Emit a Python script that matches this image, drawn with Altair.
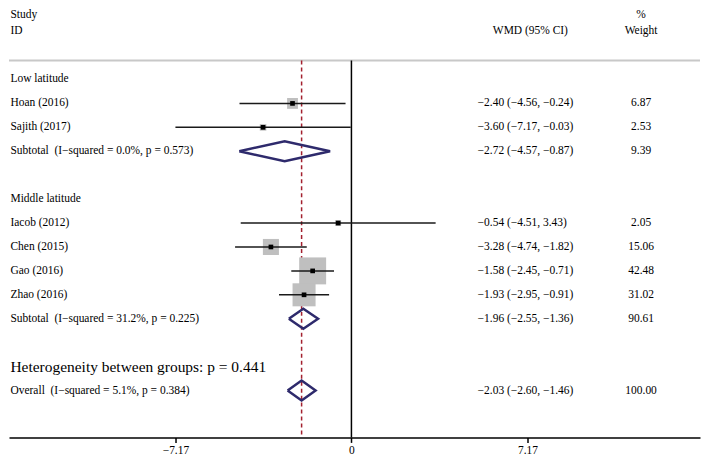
import altair as alt
import pandas as pd

# ---------------- data ----------------
study_names = ["Hoan (2016)", "Sajith (2017)", "Iacob (2012)", "Chen (2015)", "Gao (2016)", "Zhao (2016)"]
study_rows = [1, 2, 6, 7, 8, 9]
study_est = [-2.40, -3.60, -0.54, -3.28, -1.58, -1.93]
study_lo = [-4.56, -7.17, -4.51, -4.74, -2.45, -2.95]
study_hi = [-0.24, -0.03, 3.43, -1.82, -0.71, -0.91]
study_wt = [6.87, 2.53, 2.05, 15.06, 42.48, 31.02]

pool_names = ["Subtotal\u00a0 (I\u2212squared = 0.0%, p = 0.573)",
              "Subtotal\u00a0 (I\u2212squared = 31.2%, p = 0.225)",
              "Overall\u00a0 (I\u2212squared = 5.1%, p = 0.384)"]
pool_rows = [3, 10, 13]
pool_est = [-2.72, -1.96, -2.03]
pool_lo = [-4.57, -2.55, -2.60]
pool_hi = [-0.87, -1.36, -1.46]
pool_wt = [9.39, 90.61, 100.00]

group_names = ["Low latitude", "Middle latitude"]
group_rows = [0, 5]
het_text = "Heterogeneity between groups: p = 0.441"
het_row = 12

tick_values = [-7.17, 0, 7.17]

# ---------------- layout ----------------
FONT = "Liberation Serif"
W, H = 693, 429
X_MIN, X_MAX = -13.95, 14.20
Y_TOP, Y_BOT = -2.92, 14.96
TOP_LINE = -0.79
COL_LABEL = -13.89
COL_CI = 5.14
COL_CI_HEAD = 7.29
COL_WT = 11.80
DIAMOND_H = 0.42
ROW_HEAD1 = -2.68
ROW_HEAD2 = -2.04

xs = alt.Scale(domain=[X_MIN, X_MAX], nice=False, zero=False)
ys = alt.Scale(domain=[Y_TOP, Y_BOT], reverse=True, nice=False, zero=False)
x_axis = alt.Axis(values=tick_values, title=None, grid=False,
                  domainColor="black", domainWidth=1.5,
                  tickColor="black", tickWidth=1.5, tickSize=5,
                  labelFont=FONT, labelFontSize=11.5, labelColor="black",
                  labelPadding=2,
                  labelExpr="datum.value < 0 ? '\u2212' + format(-datum.value, '.2f') : (datum.value == 0 ? '0' : format(datum.value, '.2f'))")


def X(field):
    return alt.X(field, type="quantitative", scale=xs, axis=x_axis)


def Y(field):
    return alt.Y(field, type="quantitative", scale=ys, axis=None)


def fmt(v):
    s = f"{abs(v):.2f}"
    return ("\u2212" + s) if v < 0 else s


studies = pd.DataFrame({"name": study_names, "row": study_rows, "est": study_est,
                        "lo": study_lo, "hi": study_hi, "wt": study_wt})
pools = pd.DataFrame({"name": pool_names, "row": pool_rows, "est": pool_est,
                      "lo": pool_lo, "hi": pool_hi, "wt": pool_wt})

# diamond vertices
dia = []
for i, (r, e, l, h) in enumerate(zip(pool_rows, pool_est, pool_lo, pool_hi)):
    pts = [(l, r), (e, r - DIAMOND_H), (h, r), (e, r + DIAMOND_H), (l, r)]
    for k, (px, py) in enumerate(pts):
        dia.append({"id": i, "k": k, "x": px, "y": py})
dia = pd.DataFrame(dia)

# text tables
left_txt = []
for n, r in zip(group_names, group_rows):
    left_txt.append({"t": n, "x": COL_LABEL, "row": r, "fs": 11.5})
for n, r in zip(study_names, study_rows):
    left_txt.append({"t": n, "x": COL_LABEL, "row": r, "fs": 11.5})
for n, r in zip(pool_names, pool_rows):
    left_txt.append({"t": n, "x": COL_LABEL, "row": r, "fs": 11.5})
left_txt.append({"t": het_text, "x": COL_LABEL, "row": het_row, "fs": 15.5})
left_txt.append({"t": "Study", "x": COL_LABEL, "row": ROW_HEAD1, "fs": 11.5})
left_txt.append({"t": "ID", "x": COL_LABEL, "row": ROW_HEAD2, "fs": 11.5})
for r, e, l, h in list(zip(study_rows, study_est, study_lo, study_hi)) + list(zip(pool_rows, pool_est, pool_lo, pool_hi)):
    left_txt.append({"t": f"{fmt(e)} ({fmt(l)}, {fmt(h)})", "x": COL_CI, "row": r, "fs": 11.5})
left_txt = pd.DataFrame(left_txt)

center_txt = [{"t": "WMD (95% CI)", "x": COL_CI_HEAD, "row": ROW_HEAD2},
              {"t": "%", "x": COL_WT, "row": ROW_HEAD1},
              {"t": "Weight", "x": COL_WT, "row": ROW_HEAD2}]
for r, w in list(zip(study_rows, study_wt)) + list(zip(pool_rows, pool_wt)):
    center_txt.append({"t": f"{w:.2f}", "x": COL_WT, "row": r})
center_txt = pd.DataFrame(center_txt)

# ---------------- layers ----------------
top_line = alt.Chart(pd.DataFrame({"row": [TOP_LINE]})).mark_rule(
    color="#c8c8c8", strokeWidth=2).encode(x=alt.value(0), x2=alt.value(W), y=Y("row"))

vlines = pd.DataFrame({"x": [0.0], "y": [TOP_LINE], "y2": [Y_BOT]})
zero_line = alt.Chart(vlines).mark_rule(color="black", strokeWidth=1.5).encode(
    x=X("x"), y=Y("y"), y2="y2")

ref_df = pd.DataFrame({"x": [pool_est[-1]], "y": [TOP_LINE], "y2": [Y_BOT]})
ref_line = alt.Chart(ref_df).mark_rule(color="#a3202e", strokeWidth=1.5,
                                       strokeDash=[4, 3]).encode(
    x=X("x"), y=Y("y"), y2="y2")

boxes = alt.Chart(studies).mark_square(color="#bfbfbf", opacity=1).encode(
    x=X("est"), y=Y("row"),
    size=alt.Size("wt:Q", scale=alt.Scale(type="linear", domain=[0, 100], range=[0, 1720]),
                  legend=None))

ci = alt.Chart(studies).mark_rule(color="#1a1a1a", strokeWidth=1.5).encode(
    x=X("lo"), x2="hi", y=Y("row"))

dots = alt.Chart(studies).mark_square(color="black", size=22, opacity=1).encode(
    x=X("est"), y=Y("row"))

diamonds = alt.Chart(dia).mark_line(color="#2e2a6c", strokeWidth=2.5,
                                    strokeJoin="miter").encode(
    x=X("x"), y=Y("y"), detail="id:N", order="k:Q")

txt_left = alt.Chart(left_txt).mark_text(align="left", baseline="middle", font=FONT,
                                         color="black").encode(
    x=X("x"), y=Y("row"), text="t:N", size=alt.Size("fs:Q", scale=None))

txt_center = alt.Chart(center_txt).mark_text(align="center", baseline="middle", font=FONT,
                                             fontSize=11.5, color="black").encode(
    x=X("x"), y=Y("row"), text="t:N")

chart = alt.layer(top_line, ref_line, zero_line, boxes, ci, dots, diamonds,
                  txt_left, txt_center).properties(
    width=W, height=H,
    padding={"left": 0, "top": 0, "right": 0, "bottom": 0},
).configure_view(stroke=None).resolve_scale(size="independent")

chart.save("out.html", embed_options={"renderer": "svg", "actions": False})
